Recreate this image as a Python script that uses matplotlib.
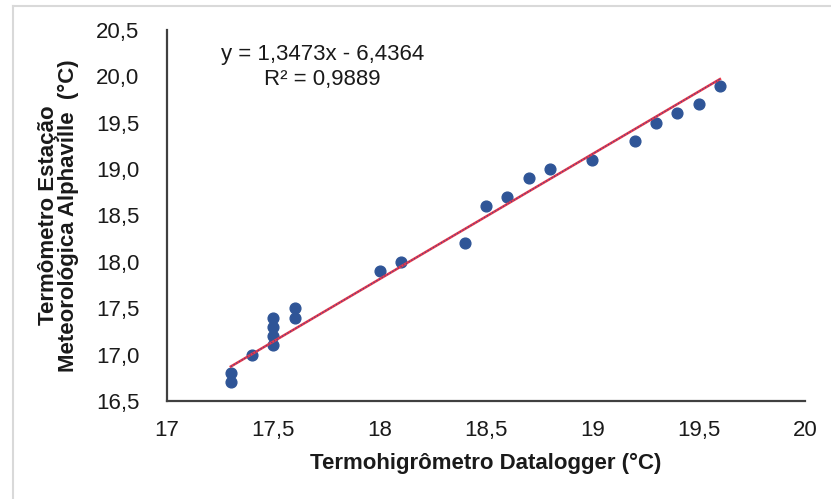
import matplotlib
matplotlib.use('Agg')
import matplotlib.pyplot as plt
from matplotlib.lines import Line2D
from matplotlib.ticker import FuncFormatter

plt.rcParams['font.family'] = ['Liberation Sans', 'DejaVu Sans']

# dados
datalogger = [17.3, 17.3, 17.4, 17.5, 17.5, 17.5, 17.5, 17.6, 17.6,
              18.0, 18.1, 18.4, 18.5, 18.6, 18.7, 18.8, 19.0,
              19.2, 19.3, 19.4, 19.5, 19.6]
estacao = [16.7, 16.8, 17.0, 17.1, 17.2, 17.3, 17.4, 17.4, 17.5,
           17.9, 18.0, 18.2, 18.6, 18.7, 18.9, 19.0, 19.1,
           19.3, 19.5, 19.6, 19.7, 19.9]
slope, intercept = 1.3473, -6.4364
r2 = 0.9889
x_ticks = [17, 17.5, 18, 18.5, 19, 19.5, 20]
y_ticks = [16.5, 17.0, 17.5, 18.0, 18.5, 19.0, 19.5, 20.0, 20.5]

fig = plt.figure(figsize=(8.31, 4.99), dpi=100)
ax = fig.add_axes([0.201, 0.1964, 0.7677, 0.7435])

ax.scatter(datalogger, estacao, s=60, color='#2F5597', zorder=3)

# linha de tendencia
x0, x1 = min(datalogger), max(datalogger)
ax.plot([x0, x1], [slope * x0 + intercept, slope * x1 + intercept],
        color='#E8394A', lw=1.8, zorder=4)
ax.plot([x0, x1], [slope * x0 + intercept, slope * x1 + intercept],
        color='#5A3F8A', lw=0.9, ls=(0, (1, 1.5)), zorder=5)

ax.set_xlim(17, 20)
ax.set_ylim(16.5, 20.5)
ax.set_xticks(x_ticks)
ax.set_yticks(y_ticks)
ax.xaxis.set_major_formatter(FuncFormatter(lambda v, p: f'{v:g}'.replace('.', ',')))
ax.yaxis.set_major_formatter(FuncFormatter(lambda v, p: f'{v:.1f}'.replace('.', ',')))
ax.tick_params(length=0, labelsize=16, colors='#1A1A1A')
ax.tick_params(axis='y', pad=20)
ax.tick_params(axis='x', pad=14)

for s in ['top', 'right']:
    ax.spines[s].set_visible(False)
for s in ['left', 'bottom']:
    ax.spines[s].set_color('#404040')
    ax.spines[s].set_linewidth(1.6)

ax.set_xlabel('Termohigrômetro Datalogger (°C)', fontsize=16, fontweight='bold',
              color='#1A1A1A', labelpad=8)
ax.set_ylabel('Termômetro Estação\nMeteorológica Alphaville  (°C)', fontsize=16,
              fontweight='bold', color='#1A1A1A', labelpad=12, linespacing=0.95)

fig.text(0.388, 0.89, f'y = {slope:.4f}x - {abs(intercept):.4f}'.replace('.', ','),
         ha='center', va='center', fontsize=16, color='#1A1A1A')
fig.text(0.388, 0.84, f'R² = {r2:.4f}'.replace('.', ','),
         ha='center', va='center', fontsize=16, color='#1A1A1A')

# moldura cinza clara
fig.add_artist(Line2D([13 / 831, 13 / 831], [0, 1 - 6 / 499], transform=fig.transFigure,
                      color='#D9D9D9', lw=1.5))
fig.add_artist(Line2D([13 / 831, 1], [1 - 6 / 499, 1 - 6 / 499], transform=fig.transFigure,
                      color='#D9D9D9', lw=1.5))

plt.savefig('out.png', dpi=100)
